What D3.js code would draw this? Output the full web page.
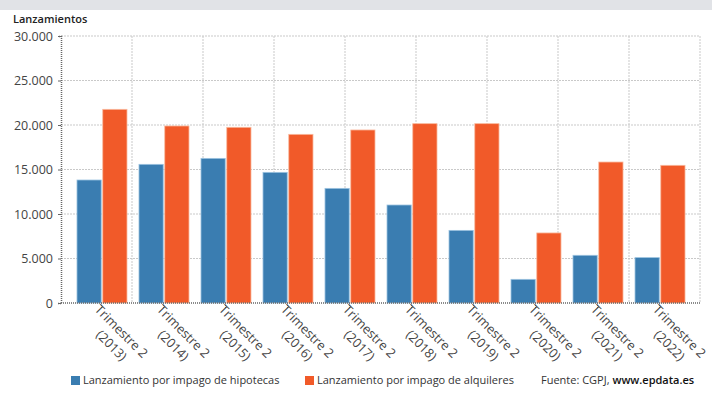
<!DOCTYPE html>
<html>
<head>
<meta charset="utf-8">
<script src="https://cdn.jsdelivr.net/npm/d3@7"></script>
<style>
  html, body { margin: 0; padding: 0; background: #fff; }
  svg { display: block; font-family: "Open Sans", sans-serif; }
</style>
</head>
<body>
<svg id="chart" width="712" height="403"></svg>
<script>
// Desahucios ejecutados en el segundo trimestre de cada año
const categories = ["2013", "2014", "2015", "2016", "2017", "2018", "2019", "2020", "2021", "2022"];
const hipotecas  = [13820, 15580, 16250, 14680, 12880, 11010, 8160, 2660, 5360, 5100];
const alquileres = [21760, 19890, 19740, 18950, 19440, 20150, 20150, 7870, 15840, 15470];
const seriesNames = ["Lanzamiento por impago de hipotecas", "Lanzamiento por impago de alquileres"];
const seriesColors = ["#3a7db1", "#f15a29"];
const seriesStroke = ["#9cc3e0", "#f9b89c"];
const yTicks = [0, 5000, 10000, 15000, 20000, 25000, 30000];
const yTitle = "Lanzamientos";
const source = ["Fuente: CGPJ, ", "www.epdata.es"];

const svg = d3.select("#chart");
const W = 712, H = 403;
const plotLeft = 61, plotRight = 700, plotTop = 36, plotBottom = 303;

// barra gris superior
svg.append("rect").attr("x", 0).attr("y", 0).attr("width", W).attr("height", 10).attr("fill", "#e1e3e7");

const fmt = v => d3.format(",")(v).replace(/,/g, ".");

const y = d3.scaleLinear().domain([0, 30000]).range([plotBottom, plotTop]);
const x = d3.scaleBand().domain(categories).range([plotLeft, plotRight]).paddingInner(0).paddingOuter(0.153);
const x1 = d3.scaleBand().domain([0, 1]).range([6.5, 56.5]).paddingInner(0.06);

// rejilla horizontal
svg.append("g").selectAll("line").data(yTicks.filter(d => d > 0)).join("line")
  .attr("x1", plotLeft).attr("x2", plotRight)
  .attr("y1", d => y(d)).attr("y2", d => y(d))
  .attr("stroke", "#c9c9c9").attr("stroke-width", 1).attr("stroke-dasharray", "2,1");

// rejilla vertical (9 divisiones)
const gx = d3.scaleLinear().domain([0, 9]).range([plotLeft, plotRight]);
svg.append("g").selectAll("line").data(d3.range(1, 10)).join("line")
  .attr("x1", d => gx(d)).attr("x2", d => gx(d))
  .attr("y1", plotTop).attr("y2", plotBottom)
  .attr("stroke", "#c9c9c9").attr("stroke-width", 1).attr("stroke-dasharray", "2,1");

// barras
const data = categories.map((c, i) => ({ c, vals: [hipotecas[i], alquileres[i]] }));
const groups = svg.append("g").selectAll("g").data(data).join("g")
  .attr("transform", d => `translate(${x(d.c)},0)`);
groups.selectAll("rect").data(d => d.vals.map((v, k) => ({ v, k }))).join("rect")
  .attr("x", d => x1(d.k)).attr("width", x1.bandwidth())
  .attr("y", d => y(d.v)).attr("height", d => y(0) - y(d.v))
  .attr("fill", d => seriesColors[d.k])
  .attr("stroke", d => seriesStroke[d.k]).attr("stroke-width", 0.8);

// eje Y
const yAxis = d3.axisLeft(y).tickValues(yTicks).tickFormat(fmt).tickSize(3).tickPadding(5);
const gy = svg.append("g").attr("transform", `translate(${plotLeft},0)`).call(yAxis);
gy.select(".domain").attr("stroke", "#666").attr("stroke-width", 1.5).attr("stroke-dasharray", "1,1");
gy.selectAll(".tick line").attr("stroke", "#666");
gy.selectAll(".tick text").attr("fill", "#444").attr("font-size", 12.5).attr("font-family", "Open Sans");

// eje X
const xAxis = d3.axisBottom(x).tickSize(5).tickFormat("");
const gxa = svg.append("g").attr("transform", `translate(0,${plotBottom})`).call(xAxis);
gxa.select(".domain").attr("stroke", "#666").attr("stroke-width", 1.5).attr("stroke-dasharray", "1,1")
  .attr("d", `M${plotLeft},0H${plotRight}`);
gxa.selectAll(".tick line").attr("stroke", "#777").attr("stroke-dasharray", "1,1");

// etiquetas rotadas
const lab = svg.append("g").selectAll("g").data(categories).join("g")
  .attr("transform", d => `translate(${x(d) + x.bandwidth() / 2 - 1},${plotBottom + 1}) rotate(45)`);
lab.each(function (d) {
  const g = d3.select(this);
  const t1 = g.append("text").text("Trimestre 2").attr("x", 0).attr("y", 9)
    .attr("font-size", 12.8).attr("fill", "#444");
  const L1 = t1.node().getComputedTextLength();
  const t2 = g.append("text").text(`(${d})`).attr("y", 26)
    .attr("font-size", 12.8).attr("fill", "#444");
  const L2 = t2.node().getComputedTextLength();
  t2.attr("x", (L1 - L2) / 2 + 3);
});

// título eje Y
svg.append("text").attr("x", 13).attr("y", 23).text(yTitle)
  .attr("font-size", 11).attr("fill", "#222").attr("font-weight", 600);

// leyenda
const legendY = 384;
const legendX = [71, 305];
seriesNames.forEach((n, i) => {
  svg.append("rect").attr("x", legendX[i]).attr("y", legendY - 8).attr("width", 9).attr("height", 9)
    .attr("fill", seriesColors[i]);
  svg.append("text").attr("x", legendX[i] + 12).attr("y", legendY).text(n)
    .attr("font-size", 11).attr("fill", "#333");
});
const src = svg.append("text").attr("x", 541).attr("y", legendY).attr("font-size", 11).attr("fill", "#333");
src.append("tspan").text(source[0]);
src.append("tspan").text(source[1]).attr("fill", "#111").attr("font-weight", 600);
</script>
</body>
</html>
